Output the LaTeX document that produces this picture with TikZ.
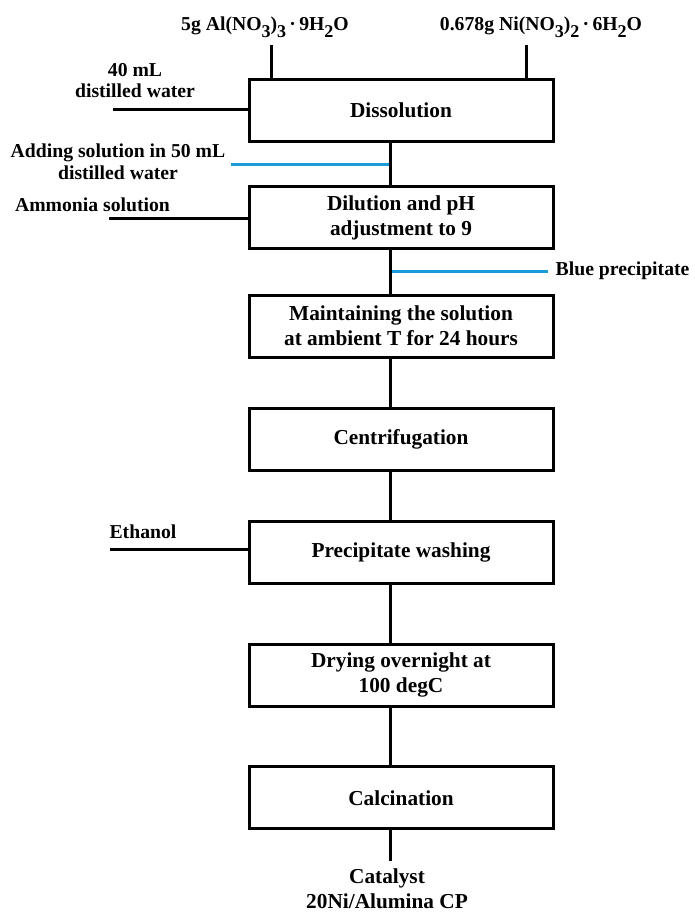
\documentclass[tikz,border=0pt]{standalone}
\usepackage{fontspec}
\setmainfont{Liberation Serif}
\usepackage{graphicx,tikz}
\usetikzlibrary{positioning}
\definecolor{feedblue}{RGB}{25,155,215}
\newcommand{\lsub}[1]{\raisebox{-0.35em}{\fontsize{18}{18}\selectfont #1}}
\tikzset{stage/.style={draw,line width=3pt,minimum width=304pt,minimum height=62pt,align=center,inner sep=0pt,font=\fontsize{21.3}{25}\selectfont\bfseries},tag/.style={align=center,inner sep=0pt,font=\fontsize{19.7}{21.5}\selectfont\bfseries},link/.style={line width=3pt},feed/.style={link,draw=feedblue}}

\begin{document}
\begin{tikzpicture}[x=1pt,y=-1pt]
\useasboundingbox (0,0) rectangle (695,914);
\coordinate (spine) at (390,0);
\node[stage] (dissol) at (401,110.5) {Dissolution};
\node[stage] (dilut) at (401,217.8) {Dilution and pH\\adjustment to 9};
\node[stage] (maint) at (401,326.2) {Maintaining the solution\\at ambient T for 24 hours};
\node[stage] (centr) at (401,439.5) {Centrifugation};
\node[stage] (wash) at (401,552.5) {Precipitate washing};
\node[stage] (dry) at (401,675.3) {Drying overnight at\\100 degC};
\node[stage] (calcin) at (401,797.8) {Calcination};
% inputs and outputs
\node[tag,anchor=base] (alsalt) at (265,30.7) {5g Al(NO\lsub{3})\lsub{3}\,·\,9H\lsub{2}O};
\node[tag,anchor=base] (nisalt) at (541,30.7) {0.678g Ni(NO\lsub{3})\lsub{2}\,·\,6H\lsub{2}O};
\node[tag] (water) at (135,80.5) {40 mL\\distilled water};
\node[tag] (adding) at (118,161.7) {Adding solution in 50 mL\\distilled water};
\node[tag] (ammonia) at (92.5,205) {Ammonia solution};
\node[tag] (ethanol) at (143,532) {Ethanol};
\coordinate (alin) at (271,45);
\coordinate (niin) at (526,45);
\coordinate (w40) at (113,109);
\coordinate (addin) at (231,164);
\coordinate (nh3) at (109,218.3);
\coordinate (blueout) at (548,271);
\coordinate (etoh) at (110,549);
\coordinate (prod) at (390,861);
\node[tag,right=7.5pt of blueout] (blueppt) {Blue precipitate};
\node[tag,font=\fontsize{21.3}{25}\selectfont\bfseries] (catalyst) at (387,889) {Catalyst\\20Ni/Alumina CP};
\draw[link] (alin)--(alin |- dissol.north);
\draw[link] (niin)--(niin |- dissol.north);
\draw[link] (w40)--(w40 -| dissol.west);
\draw[link] (nh3)--(nh3 -| dilut.west);
\draw[link] (etoh)--(etoh -| wash.west);
\draw[feed] (addin)--(addin -| spine);
\draw[feed] (blueout -| spine)--(blueout);
\foreach \a/\b in {dissol/dilut,dilut/maint,maint/centr,centr/wash,wash/dry,dry/calcin}
  \draw[link] (\a.south -| spine)--(\b.north -| spine);
\draw[link] (calcin.south -| spine)--(prod);
\end{tikzpicture}
\end{document}
